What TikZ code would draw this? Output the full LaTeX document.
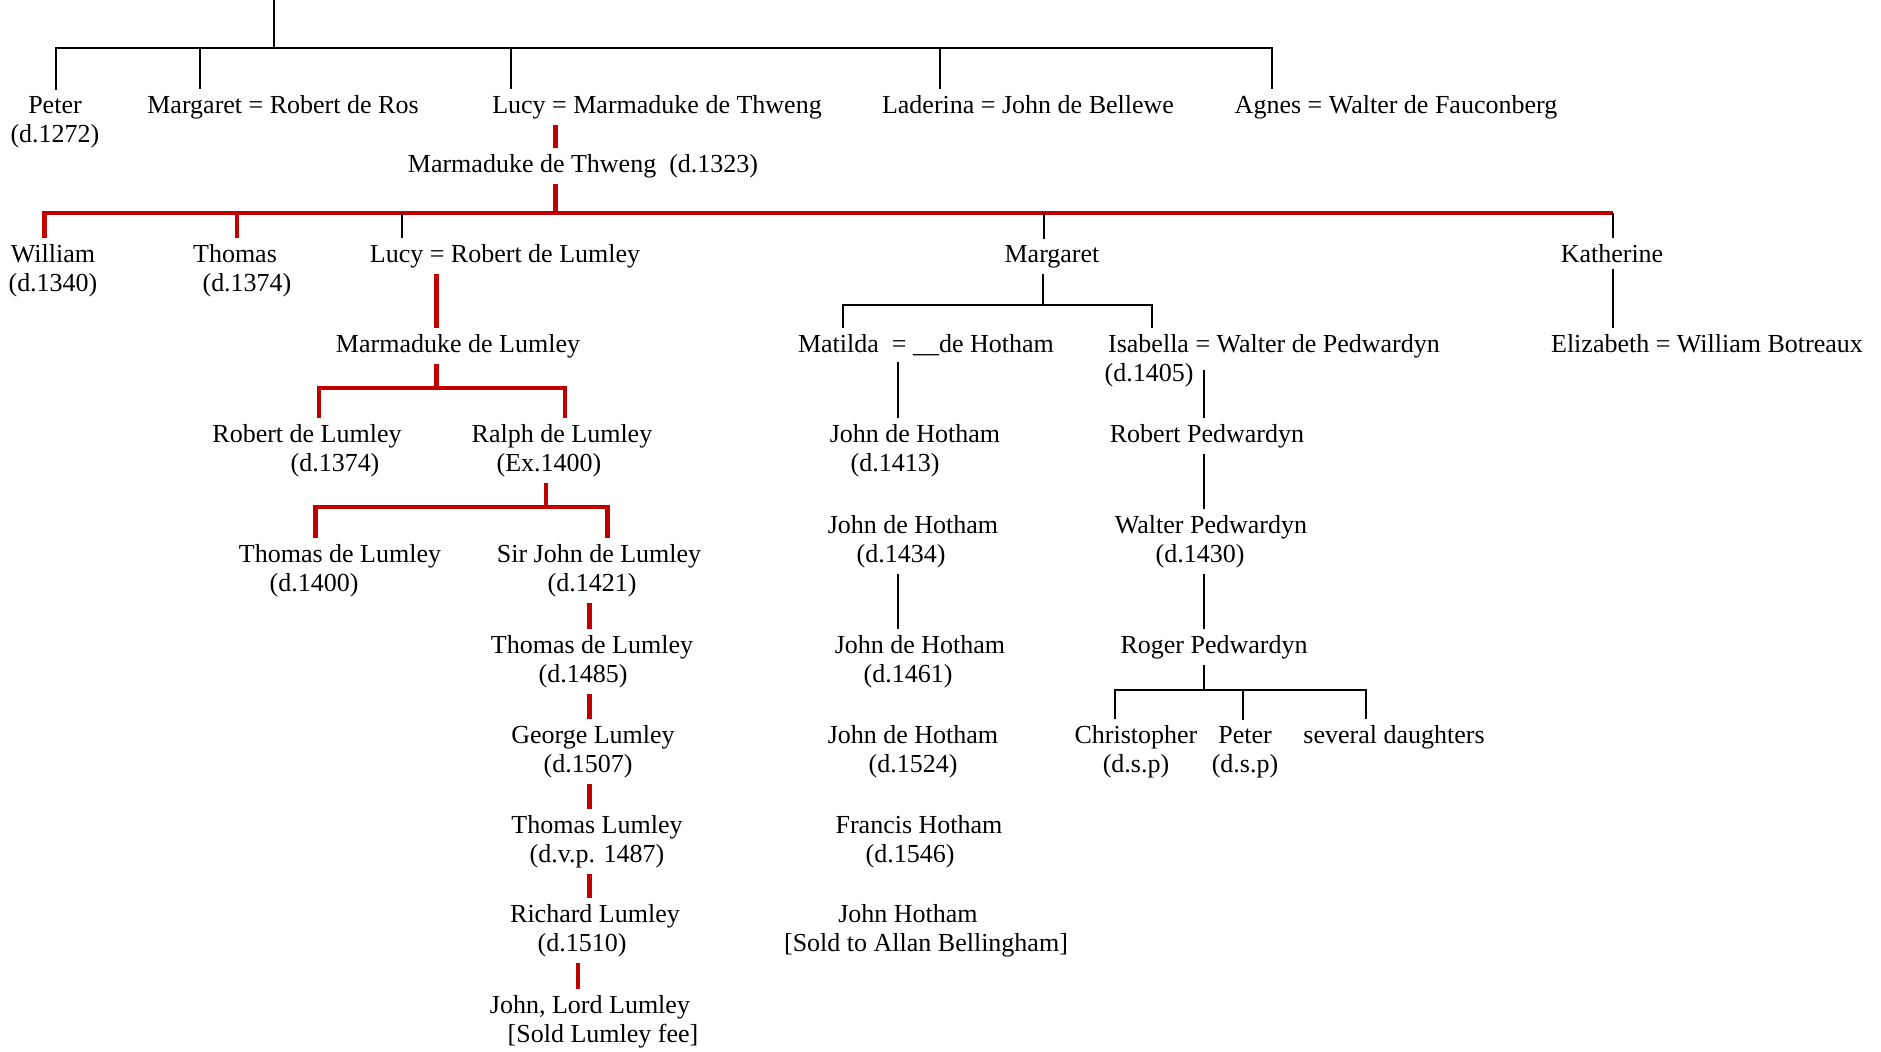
\documentclass[tikz,border=0pt]{standalone}
\usepackage{fontspec}
\setmainfont{Liberation Serif}
\definecolor{lineRed}{RGB}{192,0,0}
\tikzset{
	person/.style={anchor=base, align=center, inner sep=3pt, font=\fontsize{13}{14.5}\selectfont},
	twoline/.style={person, yshift=-14.5pt},
	kin/.style={draw=black, line width=1pt},
	heir/.style={draw=lineRed, line width=2.3pt},
}

\begin{document}
\begin{tikzpicture}[x=0.5pt,y=-0.5pt]
	\useasboundingbox (0,0) rectangle (1881,1051);
	%first row
	\node[twoline] (peter) at (55,113) {Peter\\(d.1272)};
	\node[person] (margRos) at (283,113) {Margaret = Robert de Ros};
	\node[person] (lucyThw) at (657,113) {Lucy = Marmaduke de Thweng};
	\node[person] (laderina) at (1028,113) {Laderina = John de Bellewe};
	\node[person] (agnes) at (1396,113) {Agnes = Walter de Fauconberg};
	\node[person] (mdThw) at (583,172) {Marmaduke de Thweng\ \ (d.1323)};
	%his children
	\node[twoline] (william) at (53,262) {William\\(d.1340)};
	\node[twoline] (thomasW) at (235,262) {Thomas\\\hspace*{12pt}(d.1374)};
	\node[person] (lucyLum) at (505,262) {Lucy = Robert de Lumley};
	\node[person] (margaretM) at (1052,262) {Margaret};
	\node[person] (katherine) at (1612,262) {Katherine};
	%Lumley line
	\node[person] (mdLum) at (458,352) {Marmaduke de Lumley};
	\node[twoline] (robLum) at (307,442) {Robert de Lumley\\\hspace*{28pt}(d.1374)};
	\node[twoline] (ralph) at (562,442) {Ralph de Lumley\\(Ex.1400)\hspace*{13pt}};
	\node[twoline] (thomasDL) at (340,562) {Thomas de Lumley\\(d.1400)\hspace*{26pt}};
	\node[twoline] (sirJohn) at (599,562) {Sir John de Lumley\\(d.1421)\hspace*{7pt}};
	\node[twoline] (thomasL2) at (592,653) {Thomas de Lumley\\(d.1485)\hspace*{9pt}};
	\node[twoline] (george) at (593,743) {George Lumley\\(d.1507)\hspace*{5pt}};
	\node[twoline] (thomasL3) at (597,833) {Thomas Lumley\\(d.v.p. 1487)};
	\node[twoline] (richard) at (595,922) {Richard Lumley\\(d.1510)\hspace*{13pt}};
	\node[twoline] (johnLord) at (590,1013) {John, Lord Lumley\\\hspace*{13pt}[Sold Lumley fee]};
	%Hotham line
	\node[person] (matilda) at (926,352) {Matilda\ \ = \_\_de Hotham};
	\node[twoline] (jh1) at (915,442) {John de Hotham\\(d.1413)\hspace*{20pt}};
	\node[twoline] (jh2) at (913,533) {John de Hotham\\(d.1434)\hspace*{12pt}};
	\node[twoline] (jh3) at (920,653) {John de Hotham\\(d.1461)\hspace*{12pt}};
	\node[twoline] (jh4) at (913,743) {John de Hotham\\(d.1524)};
	\node[twoline] (francis) at (919,833) {Francis Hotham\\(d.1546)\hspace*{9pt}};
	\node[twoline] (johnH) at (908,922) {John Hotham\\\hspace*{18pt}[Sold to Allan Bellingham]};
	%Pedwardyn line
	\node[twoline] (isabella) at (1274,352) {Isabella = Walter de Pedwardyn\\(d.1405)\hspace*{125pt}};
	\node[person] (robPed) at (1207,442) {Robert Pedwardyn};
	\node[twoline] (walPed) at (1211,533) {Walter Pedwardyn\\(d.1430)\hspace*{11pt}};
	\node[person] (rogPed) at (1214,653) {Roger Pedwardyn};
	\node[twoline] (christopher) at (1136,743) {Christopher\\(d.s.p)};
	\node[twoline] (peterP) at (1245,743) {Peter\\(d.s.p)};
	\node[person] (daughters) at (1394,743) {several daughters};
	%Botreaux
	\node[person] (elizabeth) at (1707,352) {Elizabeth = William Botreaux};

	%top bracket
	\coordinate (root) at (274,0);
	\coordinate (t0) at (56,48);
	\coordinate (t1) at (200,48);
	\coordinate (t2) at (274,48);
	\coordinate (t3) at (511,48);
	\coordinate (t4) at (940,48);
	\coordinate (t5) at (1272,48);
	\draw[kin] (root) -- (t2);
	\draw[kin] (peter.north -| t0) -- (t0) -- (t5) -- (agnes.north -| t5);
	\draw[kin] (t1) -- (margRos.north -| t1);
	\draw[kin] (t3) -- (lucyThw.north -| t3);
	\draw[kin] (t4) -- (laderina.north -| t4);
	%red bracket
	\coordinate (r0) at (44.5,213);
	\coordinate (r1) at (237,213);
	\coordinate (r2) at (402,213);
	\coordinate (r3) at (555.5,213);
	\coordinate (r4) at (1044,213);
	\coordinate (r5) at (1613,213);
	\draw[heir] (lucyThw.south -| r3) -- (mdThw.north -| r3);
	\draw[heir] (mdThw.south -| r3) -- (r3);
	\draw[heir] (william.north -| r0) -- (r0) -- (r5);
	\draw[heir] (r1) -- (thomasW.north -| r1);
	\draw[kin] (r2) -- (lucyLum.north -| r2);
	\draw[kin] (r4) -- (margaretM.north -| r4);
	\draw[kin] (r5) -- (katherine.north -| r5);
	\draw[kin] (katherine.south -| r5) -- (elizabeth.north -| r5);
	%Lumley brackets
	\coordinate (b1) at (436.5,388);
	\coordinate (b1l) at (319,388);
	\coordinate (b1r) at (565,388);
	\coordinate (b2) at (546,507);
	\coordinate (b2l) at (315.5,507);
	\coordinate (b2r) at (607.5,507);
	\coordinate (chain) at (589.5,600);
	\coordinate (chain2) at (578,980);
	\draw[heir] (lucyLum.south -| b1) -- (mdLum.north -| b1);
	\draw[heir] (mdLum.south -| b1) -- (b1);
	\draw[heir] (robLum.north -| b1l) -- (b1l) -- (b1r) -- (ralph.north -| b1r);
	\draw[heir] (ralph.south -| b2) -- (b2);
	\draw[heir] (thomasDL.north -| b2l) -- (b2l) -- (b2r) -- (sirJohn.north -| b2r);
	\draw[heir] (sirJohn.south -| chain) -- (thomasL2.north -| chain);
	\draw[heir] (thomasL2.south -| chain) -- (george.north -| chain);
	\draw[heir] (george.south -| chain) -- (thomasL3.north -| chain);
	\draw[heir] (thomasL3.south -| chain) -- (richard.north -| chain);
	\draw[heir] (richard.south -| chain2) -- (johnLord.north -| chain2);
	%Margaret bracket
	\coordinate (m0) at (1043,305);
	\coordinate (m0l) at (843,305);
	\coordinate (m0r) at (1151.5,305);
	\coordinate (hx) at (897.5,400);
	\coordinate (px) at (1204,400);
	\draw[kin] (margaretM.south -| m0) -- (m0);
	\draw[kin] (matilda.north -| m0l) -- (m0l) -- (m0r) -- (isabella.north -| m0r);
	\draw[kin] (matilda.south -| hx) -- (jh1.north -| hx);
	\draw[kin] (jh2.south -| hx) -- (jh3.north -| hx);
	\draw[kin] ([yshift=-21pt]isabella.north -| px) -- (robPed.north -| px);
	\draw[kin] (robPed.south -| px) -- (walPed.north -| px);
	\draw[kin] (walPed.south -| px) -- (rogPed.north -| px);
	%Roger's children
	\coordinate (p0) at (1203.5,690);
	\coordinate (p0l) at (1115,690);
	\coordinate (p0m) at (1243.3,690);
	\coordinate (p0r) at (1365.7,690);
	\draw[kin] (rogPed.south -| p0) -- (p0);
	\draw[kin] (christopher.north -| p0l) -- (p0l) -- (p0r) -- (daughters.north -| p0r);
	\draw[kin] (p0m) -- (peterP.north -| p0m);
\end{tikzpicture}
\end{document}
